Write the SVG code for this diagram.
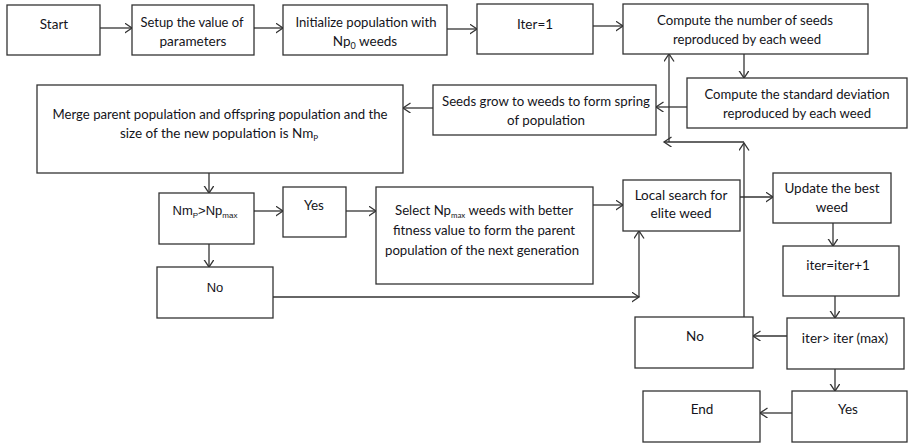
<svg xmlns="http://www.w3.org/2000/svg" width="908" height="445" viewBox="0 0 908 445">
<defs>
<marker id="ah" markerUnits="userSpaceOnUse" markerWidth="10" markerHeight="12" refX="7.5" refY="5" orient="auto">
<path d="M0,0 L7.5,5 L0,10" fill="none" stroke="#333" stroke-width="1.3"/>
</marker>
<style>
.b{fill:#fff;stroke:#333;stroke-width:1.3}
.t{font-family:Lato,"Liberation Sans",sans-serif;font-size:13.5px;fill:#141420;text-anchor:middle}
.a{font-family:"Liberation Sans",Arial,sans-serif;font-size:13px;fill:#141420;text-anchor:middle}
.c{fill:none;stroke:#333;stroke-width:1.3}
.ar{marker-end:url(#ah)}
</style>
</defs>
<rect width="908" height="445" fill="#fff"/>
<g id="connectors">
<line class="c ar" x1="100" y1="28" x2="132" y2="28"/>
<line class="c ar" x1="254" y1="28" x2="283" y2="28"/>
<line class="c ar" x1="447" y1="29" x2="477" y2="29"/>
<line class="c ar" x1="593" y1="26" x2="623" y2="26"/>
<line class="c ar" x1="744" y1="54" x2="744" y2="78"/>
<line class="c ar" x1="687" y1="107" x2="656" y2="107"/>
<line class="c ar" x1="433" y1="108" x2="403" y2="108"/>
<line class="c ar" x1="209" y1="173" x2="209" y2="193"/>
<line class="c ar" x1="254" y1="211" x2="283" y2="211"/>
<line class="c ar" x1="346" y1="211" x2="376" y2="211"/>
<line class="c ar" x1="593" y1="205" x2="623" y2="205"/>
<line class="c ar" x1="209" y1="244" x2="209" y2="267"/>
<line class="c ar" x1="273" y1="297" x2="639" y2="297"/>
<line class="c ar" x1="639" y1="297" x2="639" y2="231"/>
<line class="c ar" x1="740" y1="197" x2="773" y2="197"/>
<line class="c ar" x1="833" y1="223" x2="833" y2="246"/>
<line class="c ar" x1="835" y1="296" x2="835" y2="318"/>
<line class="c ar" x1="787" y1="336" x2="753" y2="336"/>
<line class="c ar" x1="835" y1="369" x2="835" y2="391"/>
<line class="c ar" x1="792" y1="413" x2="760" y2="413"/>
<line class="c ar" x1="744" y1="317" x2="744" y2="143"/>
<line class="c ar" x1="744" y1="142" x2="664" y2="142"/>
<line class="c ar" x1="669" y1="142" x2="669" y2="54"/>
</g>
<g id="start">
<rect class="b" x="7" y="5" width="93" height="50"/>
<text class="t" x="54" y="29">Start</text>
</g>
<g id="setup">
<rect class="b" x="132" y="5" width="122" height="50"/>
<text class="t" x="192" y="27" textLength="103" lengthAdjust="spacingAndGlyphs">Setup the value of</text>
<text class="t" x="193" y="46" textLength="67" lengthAdjust="spacingAndGlyphs">parameters</text>
</g>
<g id="init">
<rect class="b" x="283" y="5" width="164" height="50"/>
<text class="t" x="366" y="27" textLength="141" lengthAdjust="spacingAndGlyphs">Initialize population with</text>
<text class="t" x="365" y="46">Np<tspan font-size="9" dy="3">0</tspan><tspan dy="-3"> weeds</tspan></text>
</g>
<g id="iter1">
<rect class="b" x="477" y="4" width="116" height="50"/>
<text class="t" x="535" y="29">Iter=1</text>
</g>
<g id="compute-seeds">
<rect class="b" x="623" y="4" width="245" height="50"/>
<text class="t" x="745" y="25" textLength="176" lengthAdjust="spacingAndGlyphs">Compute the number of seeds</text>
<text class="t" x="747" y="44" textLength="148" lengthAdjust="spacingAndGlyphs">reproduced by each weed</text>
</g>
<g id="compute-std">
<rect class="b" x="687" y="78" width="220" height="50"/>
<text class="t" x="797" y="99" textLength="185" lengthAdjust="spacingAndGlyphs">Compute the standard deviation</text>
<text class="t" x="797" y="118" textLength="148" lengthAdjust="spacingAndGlyphs">reproduced by each weed</text>
</g>
<g id="seeds-grow">
<rect class="b" x="433" y="85" width="223" height="50"/>
<text class="t" x="546" y="106" textLength="208" lengthAdjust="spacingAndGlyphs">Seeds grow to weeds to form spring</text>
<text class="t" x="546" y="125" textLength="78" lengthAdjust="spacingAndGlyphs">of population</text>
</g>
<g id="merge">
<rect class="b" x="37" y="85" width="366" height="88"/>
<text class="t" x="220" y="119" textLength="335" lengthAdjust="spacingAndGlyphs">Merge parent population and offspring population and the</text>
<text class="t" x="219" y="138">size of the new population is Nm<tspan font-size="8" dy="3">P</tspan></text>
</g>
<g id="nm-np">
<rect class="b" x="159" y="193" width="95" height="51"/>
<text class="a" x="205" y="215">Nm<tspan font-size="8" dy="3">P</tspan><tspan dy="-3">&gt;Np</tspan><tspan font-size="8" dy="3">max</tspan></text>
</g>
<g id="yes1">
<rect class="b" x="283" y="187" width="63" height="50"/>
<text class="t" x="314" y="210">Yes</text>
</g>
<g id="select">
<rect class="b" x="376" y="187" width="217" height="97"/>
<text class="t" x="484" y="215" textLength="178" lengthAdjust="spacingAndGlyphs">Select Np<tspan font-size="8" dy="3">max</tspan><tspan dy="-3"> weeds with better</tspan></text>
<text class="t" x="484" y="235" textLength="182" lengthAdjust="spacingAndGlyphs">fitness value to form the parent</text>
<text class="t" x="482" y="255" textLength="194" lengthAdjust="spacingAndGlyphs">population of the next generation</text>
</g>
<g id="no1">
<rect class="b" x="157" y="267" width="116" height="51"/>
<text class="a" x="215" y="292">No</text>
</g>
<g id="local-search">
<rect class="b" x="623" y="180" width="117" height="51"/>
<text class="t" x="681" y="200">Local search for</text>
<text class="t" x="681" y="218">elite weed</text>
</g>
<g id="update">
<rect class="b" x="773" y="173" width="118" height="50"/>
<text class="t" x="832" y="193">Update the best</text>
<text class="t" x="832" y="212">weed</text>
</g>
<g id="iter-inc">
<rect class="b" x="783" y="246" width="116" height="50"/>
<text class="t" x="838" y="270">iter=iter+1</text>
</g>
<g id="iter-max">
<rect class="b" x="787" y="318" width="117" height="51"/>
<text class="t" x="845" y="343">iter&gt; iter (max)</text>
</g>
<g id="no2">
<rect class="b" x="635" y="317" width="118" height="51"/>
<text class="t" x="695" y="341">No</text>
</g>
<g id="yes2">
<rect class="b" x="792" y="391" width="115" height="51"/>
<text class="t" x="848" y="414">Yes</text>
</g>
<g id="end">
<rect class="b" x="643" y="391" width="117" height="51"/>
<text class="t" x="702" y="414">End</text>
</g>
</svg>
